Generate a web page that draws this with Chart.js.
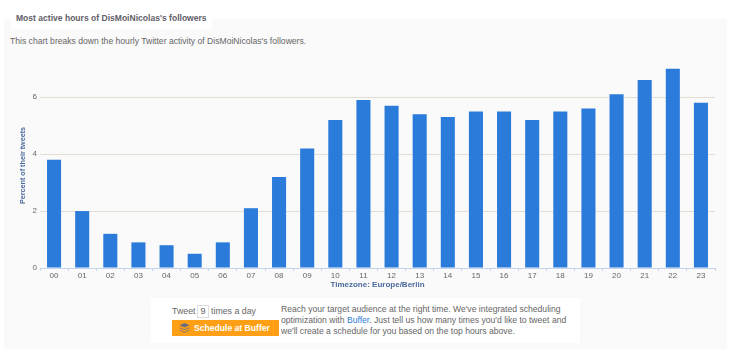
<!DOCTYPE html>
<html>
<head>
<meta charset="utf-8">
<script src="https://cdn.jsdelivr.net/npm/chart.js@4"></script>
<style>
  html, body { margin: 0; padding: 0; background: #fff; }
  body { width: 730px; height: 357px; position: relative; overflow: hidden; font-family: "Liberation Sans", sans-serif; color: #666; filter: blur(0.35px); }
  #panel { position: absolute; left: 4px; top: 19px; width: 723px; height: 330px; background: #fafafa; }
  #trendsWrap { position: absolute; left: 0; top: 0; width: 730px; height: 357px; }
  .txt { position: absolute; white-space: nowrap; }
  #titleBox { position: absolute; left: 11px; top: 8px; width: 201px; height: 21px; background: #fff; }
  #title { left: 16px; top: 13px; font-size: 8.55px; line-height: 11px; font-weight: bold; color: #5f6068; }
  #sub { left: 10px; top: 35.5px; font-size: 8.6px; line-height: 11px; color: #666; }
  #infoBox { position: absolute; left: 151px; top: 298px; width: 429px; height: 45px; background: #fff; }
  #tweetA { left: 172px; top: 306px; font-size: 8.8px; line-height: 11px; color: #666; }
  #tweetB { left: 211px; top: 306px; font-size: 8.8px; line-height: 11px; color: #666; }
  #count { position: absolute; left: 197px; top: 305px; width: 12px; height: 13px; border: 1px solid #ddd; box-sizing: border-box; font-size: 9px; line-height: 11px; text-align: center; color: #666; background: #fff; }
  #btn { position: absolute; left: 172px; top: 320px; width: 107px; height: 16px; background: #ff9f15; color: #fff; font-size: 8.6px; font-weight: bold; line-height: 16px; padding-left: 22px; box-sizing: border-box; }
  #btn svg { position: absolute; left: 7px; top: 3px; }
  .para { left: 281px; font-size: 8.6px; line-height: 11px; color: #666; }
  .para span { color: #2b7bdb; }
</style>
</head>
<body>
<div id="panel"></div>
<div id="titleBox"></div>
<div id="title" class="txt">Most active hours of DisMoiNicolas's followers</div>
<div id="sub" class="txt">This chart breaks down the hourly Twitter activity of DisMoiNicolas's followers.</div>
<div id="trendsWrap"><canvas id="hoursChart" width="730" height="357"></canvas></div>
<div id="infoBox"></div>
<div id="tweetA" class="txt">Tweet</div>
<div id="count">9</div>
<div id="tweetB" class="txt">times a day</div>
<div id="btn"><svg width="11" height="10" viewBox="0 0 11 10"><path d="M5.5 0 10.5 2.2 5.5 4.4 .5 2.2Z M.5 4.2 5.5 6.4 10.5 4.2 10.5 5 5.5 7.2 .5 5Z M.5 6.8 5.5 9 10.5 6.8 10.5 7.6 5.5 9.8 .5 7.6Z" fill="#6a6f80"/></svg>Schedule at Buffer</div>
<div class="txt para" style="top:304px">Reach your target audience at the right time. We've integrated scheduling</div>
<div class="txt para" style="top:315px">optimization with <span>Buffer</span>. Just tell us how many times you'd like to tweet and</div>
<div class="txt para" style="top:326px">we'll create a schedule for you based on the top hours above.</div>

<script>
/* hourly activity */
const hours = ["00","01","02","03","04","05","06","07","08","09","10","11","12","13","14","15","16","17","18","19","20","21","22","23"];
const percentTweets = [3.8, 2.0, 1.2, 0.9, 0.8, 0.5, 0.9, 2.1, 3.2, 4.2, 5.2, 5.9, 5.7, 5.4, 5.3, 5.5, 5.5, 5.2, 5.5, 5.6, 6.1, 6.6, 7.0, 5.8];
const yTicks = [0, 2, 4, 6];

document.addEventListener("DOMContentLoaded", () => {
  const ctx = document.getElementById("hoursChart").getContext("2d");

  new Chart(ctx, {
    type: "bar",
    data: {
      labels: hours,
      datasets: [{
        data: percentTweets,
        backgroundColor: "#2b7bdb",
        borderWidth: 0,
        barPercentage: 0.5,
        categoryPercentage: 1,
      }],
    },
    options: {
      responsive: false,
      animation: false,
      layout: { padding: { left: 19, right: 15, top: 63, bottom: 67 } },
      plugins: { legend: { display: false }, tooltip: { enabled: false } },
      scales: {
        x: {
          afterFit: (s) => { s.height = 22; },
          grid: { drawOnChartArea: false, drawTicks: true, tickLength: 3, color: "#c4d4ea" },
          border: { display: true, color: "#c4d4ea" },
          ticks: { font: { family: "Liberation Sans", size: 8 }, color: "#666", padding: 0, maxRotation: 0, autoSkip: false },
          title: { display: true, text: "Timezone: Europe/Berlin", color: "#4a6a9c", font: { family: "Liberation Sans", size: 8, weight: "bold" }, padding: 0 },
        },
        y: {
          min: 0,
          max: 7.2,
          afterFit: (s) => { s.width = 21; },
          afterBuildTicks: (s) => { s.ticks = yTicks.map((v) => ({ value: v })); },
          grid: { color: (c) => (c.tick.value === 0 ? "transparent" : "#e2ded4"), lineWidth: 1, drawTicks: false },
          border: { display: false },
          ticks: { font: { family: "Liberation Sans", size: 8 }, color: "#666", padding: 3 },
          title: { display: true, text: "Percent of their tweets", color: "#4a6a9c", font: { family: "Liberation Sans", size: 7.2, weight: "bold" }, padding: 0 },
        },
      },
    },
  });
});
</script>
</body>
</html>
